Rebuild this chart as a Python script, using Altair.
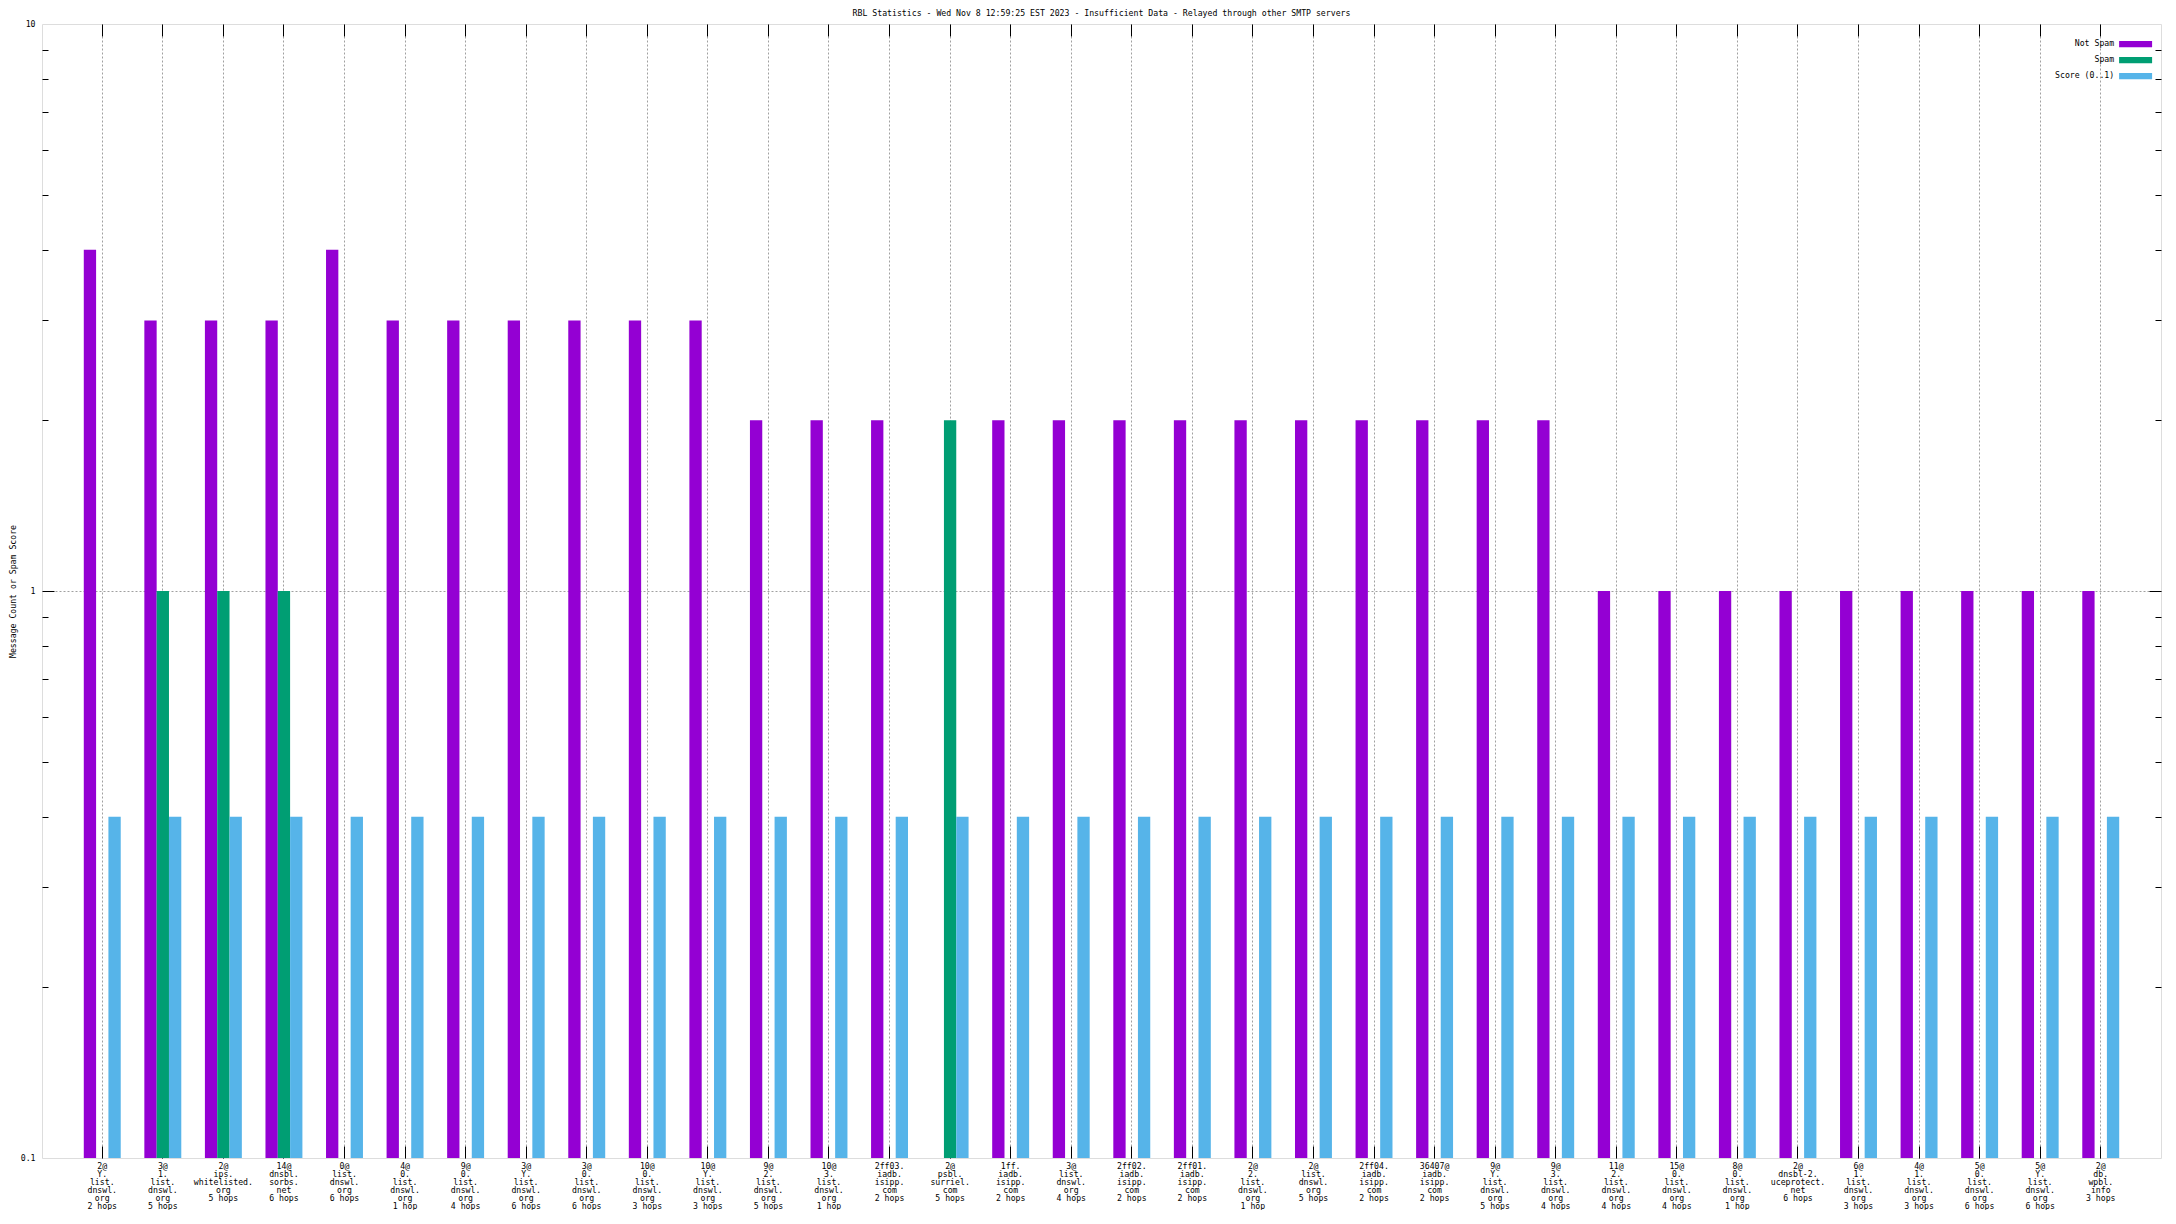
import altair as alt
import pandas as pd

label_lines = [
    ["2@", "Y.", "list.", "dnswl.", "org", "2 hops"],
    ["3@", "1.", "list.", "dnswl.", "org", "5 hops"],
    ["2@", "ips.", "whitelisted.", "org", "5 hops"],
    ["14@", "dnsbl.", "sorbs.", "net", "6 hops"],
    ["0@", "list.", "dnswl.", "org", "6 hops"],
    ["4@", "0.", "list.", "dnswl.", "org", "1 hop"],
    ["9@", "0.", "list.", "dnswl.", "org", "4 hops"],
    ["3@", "Y.", "list.", "dnswl.", "org", "6 hops"],
    ["3@", "0.", "list.", "dnswl.", "org", "6 hops"],
    ["10@", "0.", "list.", "dnswl.", "org", "3 hops"],
    ["10@", "Y.", "list.", "dnswl.", "org", "3 hops"],
    ["9@", "2.", "list.", "dnswl.", "org", "5 hops"],
    ["10@", "3.", "list.", "dnswl.", "org", "1 hop"],
    ["2ff03.", "iadb.", "isipp.", "com", "2 hops"],
    ["2@", "psbl.", "surriel.", "com", "5 hops"],
    ["1ff.", "iadb.", "isipp.", "com", "2 hops"],
    ["3@", "list.", "dnswl.", "org", "4 hops"],
    ["2ff02.", "iadb.", "isipp.", "com", "2 hops"],
    ["2ff01.", "iadb.", "isipp.", "com", "2 hops"],
    ["2@", "2.", "list.", "dnswl.", "org", "1 hop"],
    ["2@", "list.", "dnswl.", "org", "5 hops"],
    ["2ff04.", "iadb.", "isipp.", "com", "2 hops"],
    ["36407@", "iadb.", "isipp.", "com", "2 hops"],
    ["9@", "Y.", "list.", "dnswl.", "org", "5 hops"],
    ["9@", "3.", "list.", "dnswl.", "org", "4 hops"],
    ["11@", "2.", "list.", "dnswl.", "org", "4 hops"],
    ["15@", "0.", "list.", "dnswl.", "org", "4 hops"],
    ["8@", "0.", "list.", "dnswl.", "org", "1 hop"],
    ["2@", "dnsbl-2.", "uceprotect.", "net", "6 hops"],
    ["6@", "1.", "list.", "dnswl.", "org", "3 hops"],
    ["4@", "1.", "list.", "dnswl.", "org", "3 hops"],
    ["5@", "0.", "list.", "dnswl.", "org", "6 hops"],
    ["5@", "Y.", "list.", "dnswl.", "org", "6 hops"],
    ["2@", "db.", "wpbl.", "info", "3 hops"],
]

not_spam = [4, 3, 3, 3, 4, 3, 3, 3, 3, 3, 3, 2, 2, 2, 0, 2, 2, 2, 2, 2, 2, 2, 2, 2, 2,
            1, 1, 1, 1, 1, 1, 1, 1, 1]
spam = [0, 1, 1, 1, 0, 0, 0, 0, 0, 0, 0, 0, 0, 0, 2, 0, 0, 0, 0, 0, 0, 0, 0, 0, 0,
        0, 0, 0, 0, 0, 0, 0, 0, 0]
score = [0.4, 0.4, 0.4, 0.4, 0.4, 0.4, 0.4, 0.4, 0.4, 0.4, 0.4, 0.4, 0.4, 0.4, 0.4, 0.4, 0.4,
         0.4, 0.4, 0.4, 0.4, 0.4, 0.4, 0.4, 0.4, 0.4, 0.4, 0.4, 0.4, 0.4, 0.4, 0.4, 0.4, 0.4]

series_names = ["Not Spam", "Spam", "Score (0..1)"]
series_colors = ["#9400d3", "#009e73", "#56b4e9"]
y_major = [0.1, 1, 10]
y_minor = [0.2, 0.3, 0.4, 0.5, 0.6, 0.7, 0.8, 0.9, 2, 3, 4, 5, 6, 7, 8, 9]
y_grid = [1]
title_text = "RBL Statistics - Wed Nov  8 12:59:25 EST 2023 - Insufficient Data - Relayed through other SMTP servers"
y_title = "Message Count or Spam Score"

cats = ["|".join(l) for l in label_lines]
rows = []
for c, a, b, s in zip(cats, not_spam, spam, score):
    rows.append({"cat": c, "series": series_names[0], "value": a})
    rows.append({"cat": c, "series": series_names[1], "value": b})
    rows.append({"cat": c, "series": series_names[2], "value": s})
df = pd.DataFrame(rows)

W, H = 2119, 1134
FONT = "DejaVu Sans Mono"
FS = 8.2

xscale = alt.Scale(domain=cats, paddingInner=0.39, paddingOuter=0.69)
yscale = alt.Scale(type="log", domain=[0.1, 10], nice=False)

base = alt.Chart(df).transform_filter("datum.value > 0")

bars = base.mark_bar(strokeWidth=0).encode(
    x=alt.X("cat:N", sort=cats, scale=xscale, title=None,
            axis=alt.Axis(labelExpr="split(datum.label, '|')", labelLineHeight=8.0,
                          labelFont=FONT, labelFontSize=FS, labelColor="black",
                          labelPadding=4, labelBaseline="top", labelAngle=0,
                          labelOverlap=False, labelBound=False, ticks=False,
                          domain=False, grid=True, gridColor="#a0a0a0",
                          gridDash=[2, 2], gridWidth=1, bandPosition=0.5)),
    xOffset=alt.XOffset("series:N", sort=series_names,
                        scale=alt.Scale(domain=series_names, paddingInner=0, paddingOuter=0)),
    y=alt.Y("value:Q", scale=yscale,
            axis=alt.Axis(title=y_title, values=y_major, format="~g", ticks=False,
                          domain=False, grid=False, labelFont=FONT, labelFontSize=FS,
                          labelColor="black", labelPadding=7, titleFont=FONT,
                          titleFontSize=FS, titleFontWeight="normal", titleColor="black",
                          titlePadding=3)),
    y2=alt.datum(0.1),
    color=alt.Color("series:N", sort=series_names,
                    scale=alt.Scale(domain=series_names, range=series_colors),
                    legend=alt.Legend(orient="none", legendX=2089.5, legendY=16, title=None,
                                      symbolType="M-4.125,-0.79H4.125V0.79H-4.125Z",
                                      symbolSize=64,
                                      symbolStrokeWidth=0, symbolOpacity=1,
                                      labelAlign="right", labelOffset={"expr": "-25.5"},
                                      labelFont=FONT, labelFontSize=FS, labelColor="black",
                                      rowPadding=7, padding=0)),
)

tick_style = dict(labels=False, domain=False, grid=False, tickColor="black", tickWidth=1, title=None)

ticks_a = base.mark_point(opacity=0).encode(
    x=alt.X("cat:N", sort=cats, scale=xscale,
            axis=alt.Axis(orient="top", offset=-H, tickSize=12, bandPosition=0.5, **tick_style)),
    y=alt.Y("value:Q", scale=yscale,
            axis=alt.Axis(orient="right", offset=-W, values=y_minor, tickSize=6, **tick_style)),
)
ticks_b = base.mark_point(opacity=0).encode(
    x=alt.X("cat:N", sort=cats, scale=xscale,
            axis=alt.Axis(orient="bottom", offset=-H, tickSize=12, bandPosition=0.5, **tick_style)),
    y=alt.Y("value:Q", scale=yscale,
            axis=alt.Axis(orient="left", offset=-W, values=y_minor, tickSize=6, **tick_style)),
)
ticks_c = base.mark_point(opacity=0).encode(
    x=alt.X("cat:N", sort=cats, scale=xscale, axis=None),
    y=alt.Y("value:Q", scale=yscale,
            axis=alt.Axis(orient="right", offset=-W, values=y_grid, tickSize=12,
                          labels=False, domain=False, grid=True, gridColor="#a0a0a0",
                          gridDash=[2, 2], gridWidth=1, tickColor="black", tickWidth=1,
                          title=None)),
)
ticks_d = base.mark_point(opacity=0).encode(
    x=alt.X("cat:N", sort=cats, scale=xscale, axis=None),
    y=alt.Y("value:Q", scale=yscale,
            axis=alt.Axis(orient="left", offset=-W, values=y_grid, tickSize=12, **tick_style)),
)

chart = alt.layer(bars, ticks_a, ticks_b, ticks_c, ticks_d).resolve_axis(
    x="independent", y="independent"
).properties(
    width=W, height=H, padding=0,
    title=alt.TitleParams(title_text, font=FONT, fontSize=FS, fontWeight="normal",
                          color="black", anchor="middle", offset=1),
).configure_view(
    stroke="black", strokeWidth=1
).configure(background="white")

chart.save("out.html", embed_options={"renderer": "svg", "actions": False})
